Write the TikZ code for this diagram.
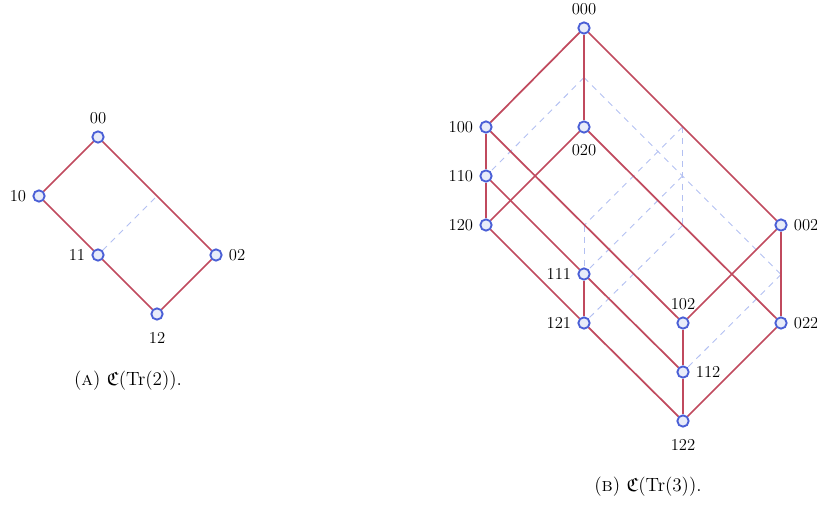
\documentclass[tikz,border=0pt]{standalone}
\usepackage{amssymb}
\usepackage{xcolor}
\usepackage{tikz}
\usetikzlibrary{positioning}
\definecolor{EdgeRed}{HTML}{C04A5E}
\definecolor{VtxBlue}{HTML}{4A5FD6}
\definecolor{VtxFill}{HTML}{E8ECF9}
\definecolor{HiddenBlue}{HTML}{B3C0F2}

\begin{document}
\begin{tikzpicture}[
  x=0.75pt, y=-0.75pt,
  font=\fontsize{12.5}{14}\selectfont,
  vtx/.style={circle,draw=VtxBlue,fill=VtxFill,line width=1.4pt,inner sep=0pt,minimum size=8.5pt},
  edge/.style={EdgeRed,line width=1.3pt},
  hidden/.style={HiddenBlue,line width=0.7pt,dash pattern=on 4.5pt off 4pt},
  caption/.style={font=\fontsize{14.5}{16}\selectfont},
  every label/.style={inner sep=2pt},
  label distance=2.5pt
]
  \useasboundingbox (0,0) rectangle (817,506);

  % (A) lattice of Tr(2)
  \coordinate (a01) at (157,196);
  \node[vtx, label=above:{00}] (a00) at (98,137) {};
  \node[vtx, label=left:{10}] (a10) at (39,196) {};
  \node[vtx, label=left:{11}] (a11) at (98,255) {};
  \node[vtx, label=right:{02}] (a02) at (216,255) {};
  \node[vtx, label={[label distance=7pt]below:{12}}] (a12) at (157,314) {};
  \draw[hidden] (a11) -- (a01);
  \draw[edge] (a00) -- (a10);
  \draw[edge] (a00) -- (a02);
  \draw[edge] (a10) -- (a11);
  \draw[edge] (a11) -- (a12);
  \draw[edge] (a02) -- (a12);
  \node[caption] (capA) at (128,381) {(\textsc{a}) $\mathfrak{C}(\mathrm{Tr}(2))$.};

  % (B) lattice of Tr(3), hidden points first
  \coordinate (b010) at (584,77.5);
  \coordinate (b001) at (682.5,127);
  \coordinate (b011) at (682.5,176);
  \coordinate (b021) at (682.5,225.5);
  \coordinate (b101) at (584,225.5);
  \coordinate (b012) at (781,274.5);

  \node[vtx, label=above:{000}] (b000) at (584,28) {};
  \node[vtx, label=left:{100}] (b100) at (486,127) {};
  \node[vtx, label={[label distance=6pt]below:{020}}] (b020) at (584,127) {};
  \node[vtx, label=left:{110}] (b110) at (486,176) {};
  \node[vtx, label=left:{120}] (b120) at (486,225) {};
  \node[vtx, label=right:{002}] (b002) at (781,225) {};
  \node[vtx, label=left:{111}] (b111) at (584,274) {};
  \node[vtx, label=left:{121}] (b121) at (584,323) {};
  \node[vtx, label=above:{102}] (b102) at (683,323) {};
  \node[vtx, label=right:{022}] (b022) at (781,323) {};
  \node[vtx, label=right:{112}] (b112) at (683,372) {};
  \node[vtx, label={[label distance=7pt]below:{122}}] (b122) at (683,421) {};

  \draw[hidden] (b010) -- (b110);
  \draw[hidden] (b010) -- (b012);
  \draw[hidden] (b001) -- (b021);
  \draw[hidden] (b001) -- (b101);
  \draw[hidden] (b101) -- (b111);
  \draw[hidden] (b011) -- (b111);
  \draw[hidden] (b021) -- (b121);
  \draw[hidden] (b012) -- (b112);

  \draw[edge] (b000) -- (b100);
  \draw[edge] (b000) -- (b020);
  \draw[edge] (b000) -- (b002);
  \draw[edge] (b100) -- (b110);
  \draw[edge] (b110) -- (b120);
  \draw[edge] (b020) -- (b120);
  \draw[edge] (b100) -- (b102);
  \draw[edge] (b110) -- (b111);
  \draw[edge] (b111) -- (b112);
  \draw[edge] (b120) -- (b121);
  \draw[edge] (b121) -- (b122);
  \draw[edge] (b111) -- (b121);
  \draw[edge] (b020) -- (b022);
  \draw[edge] (b002) -- (b102);
  \draw[edge] (b002) -- (b022);
  \draw[edge] (b102) -- (b112);
  \draw[edge] (b112) -- (b122);
  \draw[edge] (b022) -- (b122);
  \node[caption] (capB) at (648,487) {(\textsc{b}) $\mathfrak{C}(\mathrm{Tr}(3))$.};
\end{tikzpicture}
\end{document}
